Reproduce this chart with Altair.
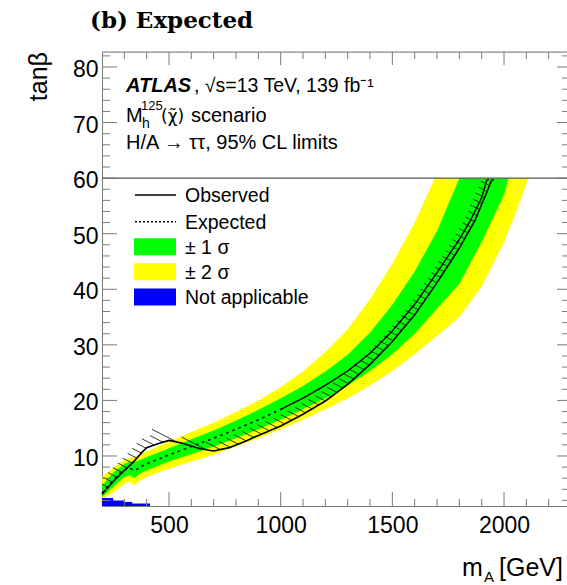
import altair as alt
import pandas as pd
import numpy as np

# ---------------- data ----------------
mA_exp = [200, 225, 250, 275, 300, 320, 335, 350, 370, 400, 450, 500, 600, 700, 800, 900,
          1000, 1100, 1200, 1300, 1400, 1500, 1600, 1700, 1800, 1850, 1900, 1915, 1922, 1932]
tb_exp = [3.3, 4.5, 5.6, 6.7, 7.5, 7.9, 7.6, 7.4, 8.0, 8.6, 9.4, 10.2, 11.7, 13.2, 14.8, 16.5,
          18.4, 20.4, 22.7, 25.3, 28.5, 32.5, 37.3, 43.0, 49.0, 52.4, 56.5, 58.6, 59.6, 59.8]

mA_obs = [200, 250, 300, 340, 380, 400, 450, 500, 560, 640, 700, 770, 850, 900, 1000, 1100,
          1200, 1300, 1400, 1500, 1600, 1700, 1800, 1870, 1920, 1938, 1944, 1954]
tb_obs = [3.1, 5.4, 7.4, 8.9, 10.7, 11.5, 12.2, 12.8, 12.3, 11.3, 10.9, 11.5, 12.8, 13.7, 15.4, 17.5,
          19.9, 22.9, 26.5, 30.6, 35.4, 41.2, 47.4, 52.4, 57.2, 59.0, 59.6, 59.7]

mA_green = [200, 250, 300, 325, 345, 370, 400, 450, 500, 600, 700, 800, 900, 1000, 1100, 1200,
            1300, 1400, 1500, 1600, 1700, 1800, 1900, 2000, 2020]
green_lo = [2.6, 4.4, 6.2, 6.6, 6.0, 6.8, 7.4, 8.2, 9.0, 10.3, 11.7, 13.2, 14.8, 16.5, 18.4, 20.4,
            22.7, 25.3, 28.3, 32.0, 36.5, 41.0, 48.5, 57.0, 60.0]
green_hi = [4.7, 7.0, 8.6, 9.0, 8.9, 9.3, 9.8, 10.6, 11.4, 13.0, 14.6, 16.4, 18.3, 20.4, 22.6, 25.2,
            28.2, 32.2, 37.2, 43.2, 50.5, 60.0, 60.0, 60.0, 60.0]

mA_yellow = [200, 250, 300, 325, 345, 370, 400, 450, 500, 600, 700, 800, 900, 1000, 1100, 1200,
             1300, 1400, 1500, 1600, 1690, 1700, 1800, 1900, 2000, 2050, 2109]
yellow_lo = [2.2, 3.4, 5.0, 5.4, 4.7, 5.6, 6.2, 7.0, 7.7, 9.0, 10.2, 11.7, 13.2, 14.8, 16.5, 18.4,
             20.4, 22.7, 25.3, 28.3, 31.3, 31.6, 35.0, 40.5, 48.5, 53.5, 60.0]
yellow_hi = [6.2, 7.9, 9.3, 9.7, 9.9, 10.3, 10.8, 11.7, 12.6, 14.3, 16.0, 17.9, 20.0, 22.4, 25.2, 28.7,
             32.8, 38.2, 44.6, 52.0, 60.0, 60.0, 60.0, 60.0, 60.0, 60.0, 60.0]

mA_na = [200, 250, 300, 335, 415]
tb_na = [2.45, 2.0, 1.7, 1.45, 1.45]

scenario_max = [60]

x_major = [500, 1000, 1500, 2000]
x_minor = [m for m in range(300, 2300, 100) if m not in x_major]
y_major = [10, 20, 30, 40, 50, 60, 70, 80]
y_minor = [v for v in range(2, 83, 2) if v % 10 != 0]

legend_labels = ["Observed", "Expected", "\u00b1 1 \u03c3", "\u00b1 2 \u03c3", "Not applicable"]

# ---------------- layout ----------------
X0, X1 = 200, 2282
Y0, Y1 = 1, 82.7
W, H = 465, 454
PAD_L, PAD_T = 102, 52
FONT = "Liberation Sans"
GRAY = "#7a7a7a"

xs = alt.Scale(domain=[X0, X1], nice=False, zero=False)
ys = alt.Scale(domain=[Y0, Y1], nice=False, zero=False)
AX_X = alt.Axis(values=x_major, format="d", tickSize=0, ticks=False, grid=False, title=None,
                labelFont=FONT, labelFontSize=23, labelColor="black", labelPadding=8,
                domainColor=GRAY, domainWidth=1)
AX_Y = alt.Axis(values=y_major, format="d", tickSize=0, ticks=False, grid=False, title=None,
                labelFont=FONT, labelFontSize=23, labelColor="black", labelPadding=4,
                labelOffset=2.5, domainColor=GRAY, domainWidth=1)


def X(f):
    return alt.X(f, type="quantitative", scale=xs, axis=AX_X)


def Yq(f):
    return alt.Y(f, type="quantitative", scale=ys, axis=AX_Y)


# ---------------- hatching on the excluded side of the observed line ----------------
px = (np.array(mA_obs) - X0) / (X1 - X0) * W
py = (np.array(tb_obs) - Y0) / (Y1 - Y0) * H
theta = np.radians(27)
d = np.array([-np.cos(theta), np.sin(theta)])
nrm = np.array([np.sin(theta), np.cos(theta)])
spacing, wband, Lmax = 6.5, 10.0, 28.0
cvals = px * nrm[0] + py * nrm[1]
hx, hy, hx2, hy2 = [], [], [], []
for i in range(len(px) - 1):
    c0, c1 = cvals[i], cvals[i + 1]
    if c0 == c1:
        continue
    lo, hi = min(c0, c1), max(c0, c1)
    for k in np.arange(np.ceil(lo / spacing), np.floor(hi / spacing) + 1):
        ck = k * spacing
        t = (ck - c0) / (c1 - c0)
        if t < 0 or t >= 1:
            continue
        sx = px[i] + t * (px[i + 1] - px[i])
        sy = py[i] + t * (py[i + 1] - py[i])
        tang = np.array([px[i + 1] - px[i], py[i + 1] - py[i]])
        tang = tang / np.hypot(*tang)
        sinphi = abs(tang[0] * d[1] - tang[1] * d[0])
        L = min(wband / max(sinphi, 1e-3), Lmax)
        ex, ey = sx + L * d[0], sy + L * d[1]
        if Y0 + sy / H * (Y1 - Y0) > 58.8:
            continue
        hx.append(X0 + sx / W * (X1 - X0))
        hy.append(Y0 + sy / H * (Y1 - Y0))
        hx2.append(X0 + ex / W * (X1 - X0))
        hy2.append(Y0 + ey / H * (Y1 - Y0))
hatch_df = pd.DataFrame({"x": hx, "y": hy, "x2": hx2, "y2": hy2})

exp_df = pd.DataFrame({"mA": mA_exp, "tb": tb_exp})
obs_df = pd.DataFrame({"mA": mA_obs, "tb": tb_obs})
green_df = pd.DataFrame({"mA": mA_green, "lo": green_lo, "hi": green_hi})
yellow_df = pd.DataFrame({"mA": mA_yellow, "lo": yellow_lo, "hi": yellow_hi})
na_df = pd.DataFrame({"mA": mA_na, "tb": tb_na, "base": [Y0] * len(mA_na)})

yellow = alt.Chart(yellow_df).mark_area(color="#FFFF00", opacity=1).encode(
    x=X("mA:Q"), y=Yq("lo:Q"), y2="hi:Q")
green = alt.Chart(green_df).mark_area(color="#00FF00", opacity=1).encode(
    x=X("mA:Q"), y=Yq("lo:Q"), y2="hi:Q")
na = alt.Chart(na_df).mark_area(color="#0000FF", opacity=1, interpolate="step-after").encode(
    x=X("mA:Q"), y=Yq("tb:Q"), y2="base:Q")
hatch = alt.Chart(hatch_df).mark_rule(color="#222222", strokeWidth=0.9, clip=True).encode(
    x=X("x:Q"), y=Yq("y:Q"), x2="x2:Q", y2="y2:Q")
obs = alt.Chart(obs_df).mark_line(color="black", strokeWidth=1.6).encode(
    x=X("mA:Q"), y=Yq("tb:Q"))
exp_dot = alt.Chart(exp_df).transform_filter("datum.mA <= 1000").mark_line(
    color="black", strokeWidth=1.6, strokeDash=[2.5, 4]).encode(x=X("mA:Q"), y=Yq("tb:Q"))
exp_sol = alt.Chart(exp_df).transform_filter("datum.mA >= 1000").mark_line(
    color="black", strokeWidth=1.4).encode(x=X("mA:Q"), y=Yq("tb:Q"))
limit = alt.Chart(pd.DataFrame({"v": scenario_max})).mark_rule(color="#555555", strokeWidth=1.2).encode(
    y=Yq("v:Q"))

# frame pieces and inward ticks
top = alt.Chart(pd.DataFrame({"a": [0]})).mark_rule(color=GRAY, strokeWidth=1).encode(
    y=alt.value(0))


def vticks(vals, y1, y2):
    return alt.Chart(pd.DataFrame({"v": vals})).mark_rule(color=GRAY, strokeWidth=1).encode(
        x=X("v:Q"), y=alt.value(y1), y2=alt.value(y2))


def hticks(vals, x1, x2):
    return alt.Chart(pd.DataFrame({"v": vals})).mark_rule(color=GRAY, strokeWidth=1).encode(
        y=Yq("v:Q"), x=alt.value(x1), x2=alt.value(x2))


ticks = [vticks(x_major, H, H - 14), vticks(x_minor, H, H - 7),
         vticks(x_major, 0, 13), vticks(x_minor, 0, 7),
         hticks(y_major, 0, 15), hticks(y_minor, 0, 8),
         hticks(y_major, W, W - 10), hticks(y_minor, W, W - 5)]

one = pd.DataFrame({"a": [0]})


def txt(s, x, y, size=20, font=FONT, weight="normal", style="normal", align="left",
        baseline="alphabetic", angle=0):
    kw = dict(text=s, font=font, fontSize=size, fontWeight=weight, fontStyle=style,
              align=align, baseline=baseline, color="black")
    if angle:
        kw["angle"] = angle
    return alt.Chart(one).mark_text(**kw).encode(x=alt.value(x - PAD_L), y=alt.value(y - PAD_T))


texts = [
    txt("(b)  Expected", 90, 27.5, size=23, font="DejaVu Serif", weight="bold"),
    txt("tan\u03b2", 39, 52, size=25, align="right", baseline="middle", angle=270),
    txt("m", 462, 576, size=25),
    txt("A", 484, 582, size=15),
    txt("[GeV]", 499, 576, size=25),
    txt("ATLAS", 126, 92, size=20, weight="bold", style="italic"),
    txt(", \u221as=13 TeV, 139 fb\u207b\u00b9", 194, 92, size=19.5),
    txt("M", 126, 122, size=20),
    txt("h", 142, 128, size=14),
    txt("125", 141, 110, size=13),
    txt("(\u03c7\u0303)", 161, 122, size=17, font="DejaVu Sans"),
    txt("scenario", 191, 122, size=20),
    txt("H/A \u2192 \u03c4\u03c4, 95% CL limits", 126, 149, size=20),
]

# legend
leg_y = [195, 221.7, 246.7, 271.7, 297]
leg = []
leg.append(alt.Chart(one).mark_rule(color="black", strokeWidth=1.6).encode(
    x=alt.value(135 - PAD_L), x2=alt.value(176 - PAD_L), y=alt.value(leg_y[0] - PAD_T)))
leg.append(alt.Chart(one).mark_rule(color="black", strokeWidth=1.6, strokeDash=[2, 2]).encode(
    x=alt.value(135 - PAD_L), x2=alt.value(176 - PAD_L), y=alt.value(leg_y[1] - PAD_T)))
for col, yc in zip(["#00FF00", "#FFFF00", "#0000FF"], leg_y[2:]):
    leg.append(alt.Chart(one).mark_rect(color=col).encode(
        x=alt.value(134 - PAD_L), x2=alt.value(176 - PAD_L),
        y=alt.value(yc - 8.5 - PAD_T), y2=alt.value(yc + 8.5 - PAD_T)))
for lab, yc in zip(legend_labels, leg_y):
    leg.append(txt(lab, 185, yc + 7, size=19.5))

chart = alt.layer(yellow, green, na, hatch, obs, exp_dot, exp_sol, limit, top, *ticks, *texts, *leg).properties(
    width=W, height=H,
    autosize=alt.AutoSizeParams(type="none"),
    padding={"left": PAD_L, "top": PAD_T, "right": 0, "bottom": 585 - PAD_T - H},
).configure_view(stroke=None).configure(background="white")

chart.save("out.html", embed_options={"renderer": "svg", "actions": False})
